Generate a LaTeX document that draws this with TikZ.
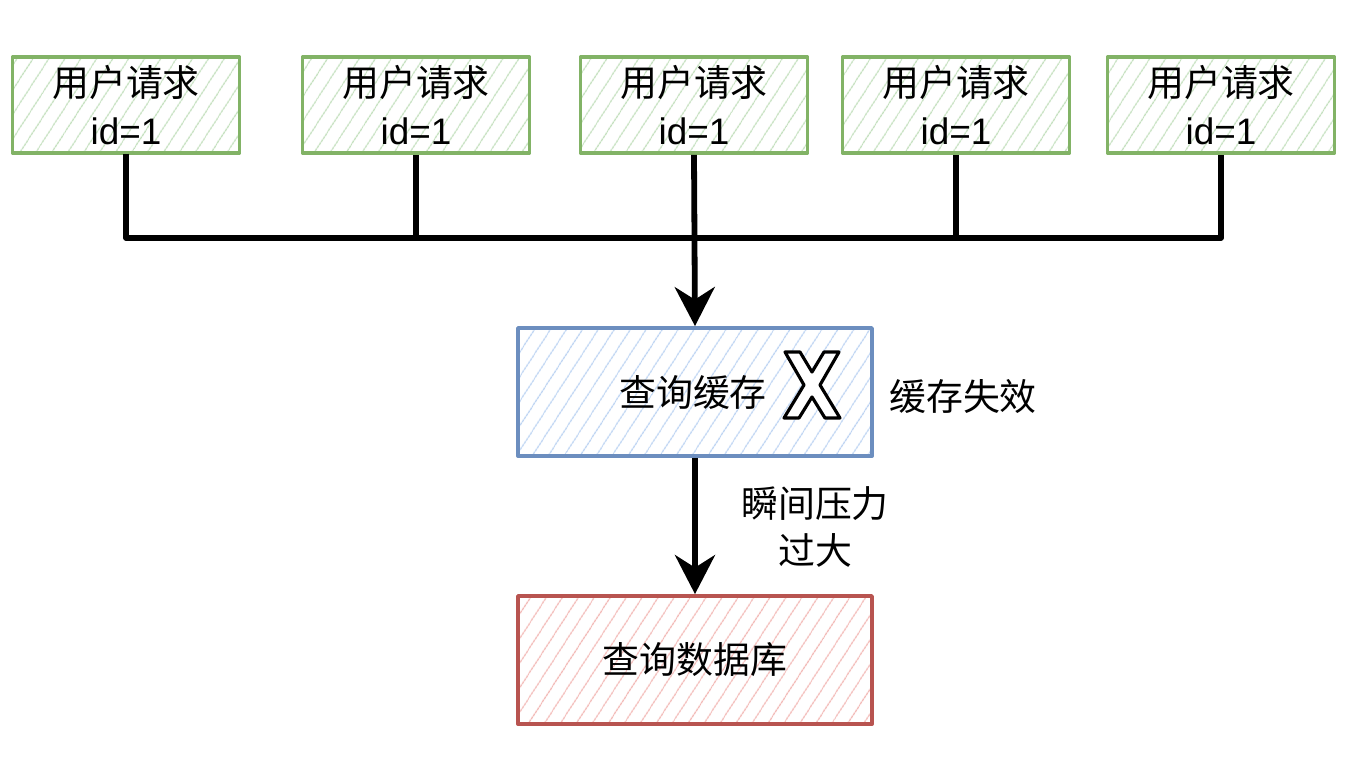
\documentclass[tikz,border=0pt]{standalone}
\usepackage{fontspec}
\setmainfont{Noto Sans CJK SC}
\newfontfamily\lat{Liberation Sans}
\usetikzlibrary{arrows.meta,patterns.meta}
\definecolor{gline}{HTML}{82B366}
\definecolor{gfill}{HTML}{C3DFBD}
\definecolor{bline}{HTML}{6C8EBF}
\definecolor{bfill}{HTML}{BCD3F2}
\definecolor{rline}{HTML}{B85450}
\definecolor{rfill}{HTML}{F2B8B5}
\tikzset{
 box/.style={draw=#1line, line width=2.2pt, align=center,
  pattern={Lines[angle=57,distance=0.26cm,line width=0.7pt]}, pattern color=#1fill},
 req/.style={box=g, minimum width=4.54cm, minimum height=1.92cm},
 store/.style={minimum width=7.08cm, minimum height=2.56cm},
 wire/.style={line width=3.3pt}
}
\begin{document}
\begin{tikzpicture}[x=0.02cm, y=-0.02cm, font=\fontsize{21}{27}\selectfont, line join=round, >={Stealth[length=0.78cm,width=0.8cm,inset=0.25cm]}]
 \useasboundingbox (0,0) rectangle (1350,765);
 % requests
 \foreach\i/\x in{1/126,2/416,3/694,4/956,5/1221}{\node[req] (q\i) at (\x,105){用户请求\\\lat id=1};}
 \coordinate (bus) at (694,238);
 % cache and database
 \node[box=b, store] (cache) at (695,392){};
 \node (cachetxt) at (693,393){查询缓存};
 \draw[line width=1.8pt, fill=white, shift={(812,385)}] (-27,-33)--(-12,-33)--(0,-13)--(12,-33)--(27,-33)--(8,0)--(28,33)--(13,33)--(0,12)--(-13,33)--(-28,33)--(-8,0)--cycle;
 \node (fail) at (963,397){缓存失效};
 \node[box=r, store] (db) at (695,660){查询数据库};
 \node[align=center] (load) at (815,527){瞬间压力\\过大};
 % connectors
 \draw[wire] (q1.south) |- (bus) -| (q5.south);
 \foreach\i in{2,4}{\draw[wire] (q\i.south) -- (q\i.south |- bus);}
 \draw[wire,->] (q3.south) -- (cache.north);
 \draw[wire,->] (cache.south) -- (db.north);
\end{tikzpicture}
\end{document}
